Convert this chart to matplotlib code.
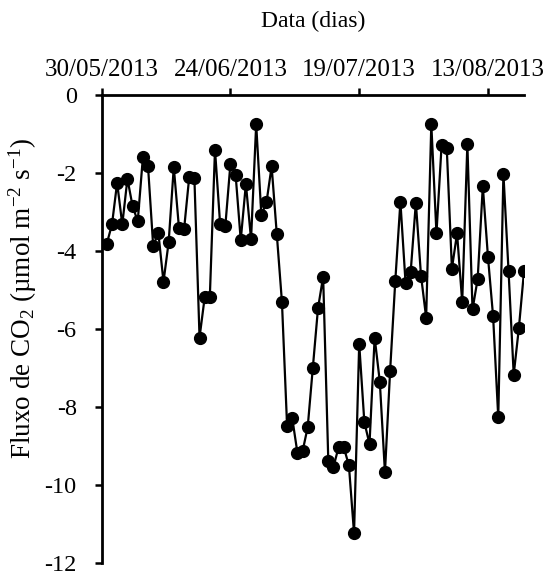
import matplotlib
matplotlib.use("Agg")
import matplotlib.pyplot as plt
import pandas as pd

plt.rcParams['font.family'] = ['Liberation Serif', 'DejaVu Serif']
plt.rcParams['mathtext.fontset'] = 'custom'
plt.rcParams['mathtext.rm'] = 'Liberation Serif'
plt.rcParams['mathtext.it'] = 'Liberation Serif:italic'
plt.rcParams['axes.unicode_minus'] = False

start_date = "2013-05-31"
flux = [-3.81, -3.32, -2.25, -3.32, -2.15, -2.85, -3.24, -1.60, -1.83, -3.87,
        -3.53, -4.79, -3.78, -1.85, -3.40, -3.44, -2.10, -2.13, -6.22, -5.19,
        -5.17, -1.40, -3.32, -3.37, -1.76, -2.04, -3.72, -2.28, -3.70, -0.75,
        -3.08, -2.75, -1.83, -3.57, -5.31, -8.49, -8.29, -9.17, -9.14, -8.52,
        -6.99, -5.47, -4.66, -9.38, -9.54, -9.03, -9.03, -9.50, -11.24, -6.38,
        -8.39, -8.95, -6.22, -7.35, -9.68, -7.08, -4.78, -2.74, -4.82, -4.53,
        -2.76, -4.63, -5.71, -0.75, -3.55, -1.28, -1.36, -4.45, -3.55, -5.31,
        -1.26, -5.50, -4.72, -2.34, -4.15, -5.68, -8.27, -2.02, -4.52, -7.17,
        -5.98, -4.52]
dates = pd.date_range(start_date, periods=len(flux), freq="D")
tick_dates = ["2013-05-30", "2013-06-24", "2013-07-19", "2013-08-13"]
tick_labels = ["30/05/2013", "24/06/2013", "19/07/2013", "13/08/2013"]
y_ticks = [0, -2, -4, -6, -8, -10, -12]

fig = plt.figure(figsize=(5.52, 5.75), dpi=100)
ax = fig.add_axes([0.1842, 0.0210, 0.7651, 0.8138])

ax.plot(dates, flux, color='black', lw=1.6, marker='o', markersize=8.5,
        markerfacecolor='black', markeredgecolor='black', zorder=3)

ax.set_xlim(pd.Timestamp("2013-05-30"), dates[-1])
ax.set_ylim(-12, 0)
ax.set_xticks([pd.Timestamp(d) for d in tick_dates])
ax.set_xticklabels(tick_labels)
ax.set_yticks(y_ticks)
ax.set_yticklabels([str(v) for v in y_ticks])

ax.xaxis.tick_top()
ax.xaxis.set_label_position('top')
for s in ['right', 'bottom']:
    ax.spines[s].set_visible(False)
for s in ['left', 'top']:
    ax.spines[s].set_linewidth(2.0)
    ax.spines[s].set_color('black')
ax.tick_params(axis='both', direction='out', length=5, width=1.8, colors='black')
ax.tick_params(axis='x', pad=5, labelsize=18)
ax.tick_params(axis='y', pad=13, labelsize=17.5)

ax.set_xlabel("Data (dias)", fontsize=17, labelpad=23)
ax.set_ylabel("Fluxo de CO$_2$ (µmol m$^{-2}$ s$^{-1}$)", fontsize=19.5)
ax.yaxis.set_label_coords(-0.148, 0.565)

fig.savefig("out.png", dpi=100)
